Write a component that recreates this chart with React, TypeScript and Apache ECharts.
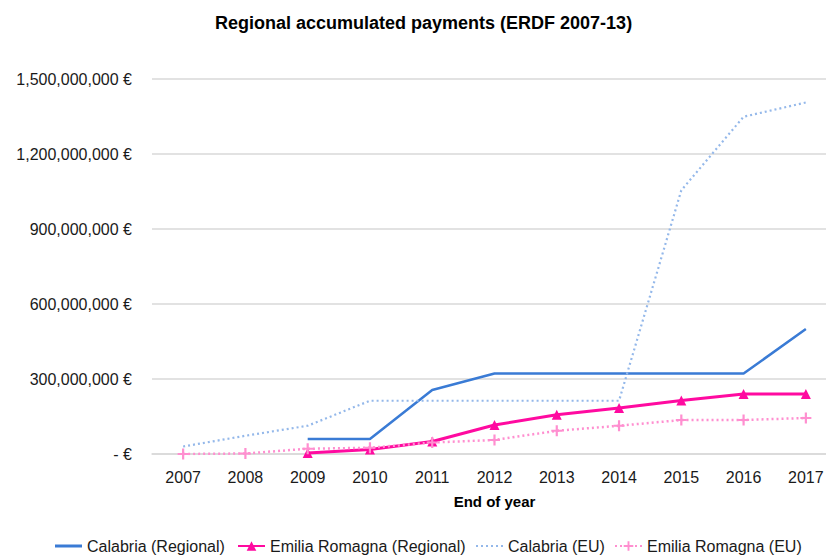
import React, { useEffect, useRef } from "react";
import * as echarts from "echarts";

const years = ["2007", "2008", "2009", "2010", "2011", "2012", "2013", "2014", "2015", "2016", "2017"];
const calabriaRegional = [null, null, 60e6, 60e6, 256e6, 322e6, 322e6, 322e6, 322e6, 322e6, 500e6];
const emiliaRegional = [null, null, 4e6, 18e6, 50e6, 116e6, 157e6, 184e6, 214e6, 240e6, 240e6];
const calabriaEU = [30e6, 73e6, 113e6, 213e6, 213e6, 213e6, 213e6, 213e6, 1055e6, 1349e6, 1406e6];
const emiliaEU = [0, 2e6, 21e6, 25e6, 46e6, 56e6, 93e6, 113e6, 136e6, 136e6, 144e6];
const seriesNames = ["Calabria (Regional)", "Emilia Romagna (Regional)", "Calabria (EU)", "Emilia Romagna (EU)"];

const FONT = "Liberation Sans";
const starPath = "path://M4,0h2v4h4v2h-4v4h-2v-4h-4v-2h4z";
const dotLinePath =
  "path://M0,0h2v2h-2z M5,0h2v2h-2z M10,0h2v2h-2z M15,0h2v2h-2z M20,0h2v2h-2z M25,0h2v2h-2z";

function fmt(v: number): string {
  if (v === 0) return "- €";
  return v.toLocaleString("en-US") + " €";
}

export default function App() {
  const ref = useRef<HTMLDivElement>(null);
  useEffect(() => {
    if (!ref.current) return;
    const chart = echarts.init(ref.current, null, { renderer: "svg" });
    const legendLefts = [55, 237, 476, 614];
    const legendIcons: (string | undefined)[] = ["rect", undefined, dotLinePath, undefined];
    const legendHeights = [3, 12, 2, 12];
    chart.setOption({
      animation: false,
      backgroundColor: "#ffffff",
      textStyle: { fontFamily: FONT },
      title: {
        text: "Regional accumulated payments (ERDF 2007-13)",
        left: 210,
        top: 9,
        textStyle: { fontFamily: FONT, fontSize: 18, fontWeight: "bold", color: "#000000" },
      },
      legend: seriesNames.map((n, i) => ({
        data: [legendIcons[i] ? { name: n, icon: legendIcons[i] } : { name: n }],
        left: legendLefts[i],
        top: 538,
        padding: 0,
        itemWidth: 27,
        itemHeight: legendHeights[i],
        textStyle: { fontFamily: FONT, fontSize: 16, color: "#1a1a1a" },
      })),
      grid: { left: 152, top: 79, width: 685, height: 375 },
      xAxis: {
        type: "category",
        data: years,
        boundaryGap: true,
        name: "End of year",
        nameLocation: "middle",
        nameGap: 40,
        nameTextStyle: { fontFamily: FONT, fontSize: 15, fontWeight: "bold", color: "#000000" },
        axisLine: { lineStyle: { color: "#d9d9d9", width: 1.5 } },
        axisTick: { show: false },
        axisLabel: { margin: 15, fontFamily: FONT, fontSize: 16, color: "#1a1a1a" },
      },
      yAxis: {
        type: "value",
        min: 0,
        max: 1500000000,
        interval: 300000000,
        axisLine: { show: false },
        axisTick: { show: false },
        splitLine: { lineStyle: { color: "#d9d9d9", width: 1.5 } },
        axisLabel: { margin: 20, fontFamily: FONT, fontSize: 16, color: "#1a1a1a", formatter: fmt },
      },
      series: [
        {
          name: seriesNames[0],
          type: "line",
          data: calabriaRegional,
          symbol: "none",
          lineStyle: { color: "#3a7bd5", width: 2.5 },
          itemStyle: { color: "#3a7bd5" },
        },
        {
          name: seriesNames[1],
          type: "line",
          data: emiliaRegional,
          symbol: "triangle",
          symbolSize: 10,
          lineStyle: { color: "#ff0aa0", width: 3 },
          itemStyle: { color: "#ff0aa0" },
        },
        {
          name: seriesNames[2],
          type: "line",
          data: calabriaEU,
          symbol: "none",
          lineStyle: { color: "#94b8ea", width: 2.2, type: [2, 3] },
          itemStyle: { color: "#94b8ea" },
        },
        {
          name: seriesNames[3],
          type: "line",
          data: emiliaEU,
          symbol: starPath,
          symbolSize: 11,
          lineStyle: { color: "#ff8fd0", width: 2.5, type: [2, 3] },
          itemStyle: { color: "#ff8fd0" },
        },
      ],
    });
    return () => chart.dispose();
  }, []);
  return (
    <div
      style={{ position: "absolute", left: 0, top: 0, width: 826, height: 558, overflow: "hidden", background: "#fff" }}
    >
      <div ref={ref} style={{ position: "absolute", left: 0, top: 0, width: 850, height: 558 }} />
    </div>
  );
}
